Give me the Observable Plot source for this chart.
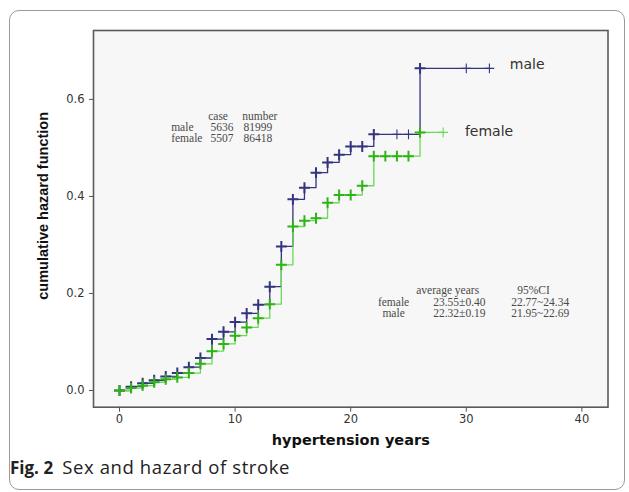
<!DOCTYPE html>
<html>
<head>
<meta charset="utf-8">
<script src="https://cdn.jsdelivr.net/npm/d3@7"></script>
<script src="https://cdn.jsdelivr.net/npm/@observablehq/plot@0.6"></script>
<style>
  html, body { margin: 0; padding: 0; background: #fff; }
  #wrap { position: relative; width: 629px; height: 492px; overflow: hidden; background: #fff; }
  #border { position: absolute; left: 9px; top: 10px; width: 616px; height: 480px; border: 1px solid #9a9a9a; border-radius: 10px; box-sizing: border-box; }
  #chart { position: absolute; left: 0; top: 0; }
  #caption { position: absolute; left: 10px; top: 455px; font-family: "Open Sans", sans-serif; color: #222; white-space: nowrap; line-height: 24px; }
  #caption b { font-weight: 700; font-size: 17px; margin-right: 5px; }
  #caption span { font-size: 18.5px; letter-spacing: 0.6px; }
</style>
</head>
<body>
<div id="wrap">
  <div id="border"></div>
  <div id="chart"></div>
  <div id="caption"><b>Fig. 2</b> <span>Sex and hazard of stroke</span></div>
</div>
<script>
// ---- data ----
const maleYears   = [0,1,2,3,4,5,6,7,8,9,10,11,12,13,14,15,16,17,18,19,20,21,22,24,25,26,30,32];
const maleHazard  = [0,0.008,0.015,0.021,0.029,0.036,0.048,0.067,0.106,0.121,0.141,0.159,0.177,0.214,0.297,0.394,0.418,0.449,0.470,0.486,0.503,0.503,0.528,0.528,0.528,0.664,0.664,0.664];
const maleCensor  = [24,25,30,32];

const femaleYears  = [0,1,2,3,4,5,6,7,8,9,10,11,12,13,14,15,16,17,18,19,20,21,22,23,24,25,26,28];
const femaleHazard = [0,0.005,0.010,0.017,0.023,0.027,0.036,0.055,0.081,0.096,0.113,0.130,0.149,0.178,0.259,0.338,0.350,0.355,0.387,0.403,0.403,0.422,0.483,0.483,0.483,0.483,0.532,0.532];
const femaleCensor = [28];

const xTicks = [0,10,20,30,40];
const yTicks = [0,0.2,0.4,0.6];

const caseHeader  = ["case", "number"];
const caseLabels  = ["male", "female"];
const caseCounts  = ["5636", "5507"];
const caseNumbers = ["81999", "86418"];

const avgHeader = ["average years", "95%CI"];
const avgLabels = ["female", "male"];
const avgMeans  = ["23.55±0.40", "22.32±0.19"];
const avgCIs    = ["22.77~24.34", "21.95~22.69"];

const seriesLabels = ["male", "female"];
const xTitle = "hypertension years";
const yTitle = "cumulative hazard function";

// ---- build tables ----
const male = maleYears.map((t, i) => ({t, h: maleHazard[i], censor: maleCensor.includes(t)}));
const female = femaleYears.map((t, i) => ({t, h: femaleHazard[i], censor: femaleCensor.includes(t)}));

const maleColor = "#34347f";
const femaleLine = "#6ad957";
const femaleDot = "#30b318";
const annoFont = "'Liberation Serif', 'DejaVu Serif', serif";
const annoStyle = {fontFamily: annoFont, fontSize: 11.5, fill: "#4a4a4a"};

const rowY1 = [0.5429, 0.5202];
const rowY2 = [0.1821, 0.1594];

const chart = Plot.plot({
  width: 629,
  height: 455,
  marginLeft: 93,
  marginRight: 21.5,
  marginTop: 30,
  marginBottom: 48.3,
  x: {domain: [-2.25, 42.26]},
  y: {domain: [-0.0344, 0.742]},
  style: {fontFamily: "'DejaVu Sans', sans-serif", fontSize: "11.5px", color: "#333", background: "transparent"},
  marks: [
    Plot.frame({fill: "#f7f7f7", stroke: null}),
    Plot.axisX({ticks: xTicks, tickSize: 5, tickPadding: 3, label: null, stroke: "#555", fill: "#333"}),
    Plot.axisY({ticks: yTicks, tickSize: 4, tickPadding: 5, tickFormat: d3.format(".1f"), label: null, stroke: "#555", fill: "#333"}),
    // lines
    Plot.line(male, {x: "t", y: "h", curve: "step-after", stroke: maleColor, strokeWidth: 1.3}),
    Plot.line(female, {x: "t", y: "h", curve: "step-after", stroke: femaleLine, strokeWidth: 1.3}),
    // markers
    Plot.dot(male.filter(d => !d.censor), {x: "t", y: "h", symbol: "plus", r: 3.6, stroke: maleColor, strokeWidth: 2}),
    Plot.dot(male.filter(d => d.censor), {x: "t", y: "h", symbol: "plus", r: 3.2, stroke: maleColor, strokeWidth: 1.1}),
    Plot.dot(female.filter(d => !d.censor), {x: "t", y: "h", symbol: "plus", r: 3.6, stroke: femaleDot, strokeWidth: 2}),
    Plot.dot(female.filter(d => d.censor), {x: "t", y: "h", symbol: "plus", r: 3.2, stroke: femaleLine, strokeWidth: 1.1}),
    // series labels
    Plot.text([seriesLabels[0]], {x: 33.77, y: 0.672, text: d => d, textAnchor: "start", fontSize: 14, fill: "#333"}),
    Plot.text([seriesLabels[1]], {x: 29.88, y: 0.5346, text: d => d, textAnchor: "start", fontSize: 14, fill: "#333"}),
    // case / number block
    Plot.text([caseHeader[0]], {x: 7.67, y: 0.5656, text: d => d, textAnchor: "start", ...annoStyle}),
    Plot.text([caseHeader[1]], {x: 10.62, y: 0.5656, text: d => d, textAnchor: "start", ...annoStyle}),
    Plot.text(caseLabels, {x: 4.47, y: (d, i) => rowY1[i], text: d => d, textAnchor: "start", ...annoStyle}),
    Plot.text(caseCounts, {x: 7.87, y: (d, i) => rowY1[i], text: d => d, textAnchor: "start", ...annoStyle}),
    Plot.text(caseNumbers, {x: 10.73, y: (d, i) => rowY1[i], text: d => d, textAnchor: "start", ...annoStyle}),
    // average years block
    Plot.text([avgHeader[0]], {x: 25.67, y: 0.2062, text: d => d, textAnchor: "start", ...annoStyle}),
    Plot.text([avgHeader[1]], {x: 34.41, y: 0.2062, text: d => d, textAnchor: "start", ...annoStyle}),
    Plot.text(avgLabels, {x: 23.71, y: (d, i) => rowY2[i], text: d => d, textAnchor: "middle", ...annoStyle}),
    Plot.text(avgMeans, {x: 27.14, y: (d, i) => rowY2[i], text: d => d, textAnchor: "start", ...annoStyle}),
    Plot.text(avgCIs, {x: 33.89, y: (d, i) => rowY2[i], text: d => d, textAnchor: "start", ...annoStyle}),
    // frame on top
    Plot.frame({stroke: "#5a5a5a", strokeWidth: 1.6}),
    // axis titles
    Plot.text([xTitle], {frameAnchor: "bottom", dy: 38, text: d => d, fontWeight: "bold", fontSize: 14.5, fill: "#111", letterSpacing: "0.5px"}),
    Plot.text([yTitle], {frameAnchor: "left", dx: -50, dy: -13, rotate: -90, textAnchor: "middle", text: d => d, fontWeight: "bold", fontSize: 14.5, fill: "#111", fontFamily: "'Liberation Sans', Arial, sans-serif"})
  ]
});
document.getElementById("chart").appendChild(chart);
</script>
</body>
</html>
